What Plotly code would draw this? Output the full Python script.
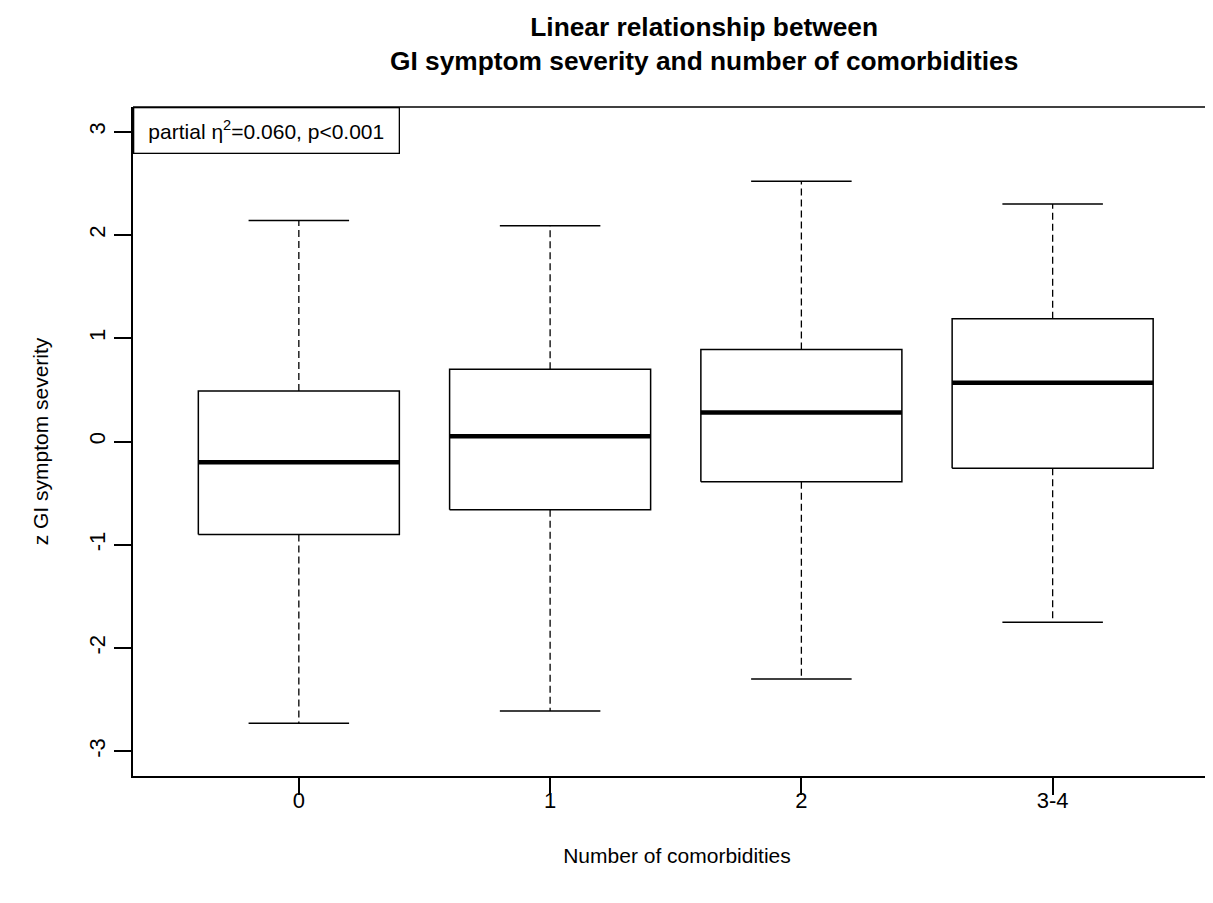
import plotly.graph_objects as go

# ---- data ----
groups = ["0", "1", "2", "3-4"]
whisker_low = [-2.73, -2.61, -2.30, -1.75]
q1 = [-0.90, -0.66, -0.39, -0.26]
median = [-0.20, 0.05, 0.28, 0.57]
q3 = [0.49, 0.70, 0.89, 1.19]
whisker_high = [2.14, 2.09, 2.52, 2.30]

y_ticks = [-3, -2, -1, 0, 1, 2, 3]

BOX_HALF = 0.4
CAP_HALF = 0.2
FONT = "Liberation Sans, Arial, sans-serif"

box_x, box_y = [], []
wh_x, wh_y = [], []
cap_x, cap_y = [], []
med_x, med_y = [], []
for i in range(len(groups)):
    box_x += [i - BOX_HALF, i + BOX_HALF, i + BOX_HALF, i - BOX_HALF, i - BOX_HALF, None]
    box_y += [q1[i], q1[i], q3[i], q3[i], q1[i], None]
    wh_x += [i, i, None, i, i, None]
    wh_y += [q3[i], whisker_high[i], None, q1[i], whisker_low[i], None]
    cap_x += [i - CAP_HALF, i + CAP_HALF, None, i - CAP_HALF, i + CAP_HALF, None]
    cap_y += [whisker_high[i], whisker_high[i], None, whisker_low[i], whisker_low[i], None]
    med_x += [i - BOX_HALF, i + BOX_HALF, None]
    med_y += [median[i], median[i], None]

fig = go.Figure()
fig.add_trace(go.Scatter(x=wh_x, y=wh_y, mode="lines",
                         line=dict(color="black", width=1.3, dash="7px,4px"),
                         hoverinfo="skip", showlegend=False))
fig.add_trace(go.Scatter(x=cap_x, y=cap_y, mode="lines",
                         line=dict(color="black", width=1.5),
                         hoverinfo="skip", showlegend=False))
fig.add_trace(go.Scatter(x=box_x, y=box_y, mode="lines",
                         line=dict(color="black", width=1.5),
                         hoverinfo="skip", showlegend=False))
fig.add_trace(go.Scatter(x=med_x, y=med_y, mode="lines",
                         line=dict(color="black", width=4.5),
                         hoverinfo="skip", showlegend=False))

# page body has an 8px margin; compensate so the plot sits where it should
OFF = 8
W, H = 1213, 903 - OFF
L, T, B = 133 - OFF, 107 - OFF, 127

fig.update_layout(
    width=W, height=H,
    margin=dict(l=L, r=0, t=T, b=B),
    paper_bgcolor="white", plot_bgcolor="white",
    font=dict(family=FONT, color="black", size=21),
    showlegend=False,
    xaxis=dict(
        range=[-0.66, 3.67],
        tickmode="array", tickvals=list(range(len(groups))), ticktext=groups,
        showgrid=False, zeroline=False,
        showline=True, linecolor="black", linewidth=1.5,
        ticks="outside", ticklen=17, tickwidth=1.5, tickcolor="black",
        tickfont=dict(size=22), ticklabelstandoff=-13,
        title=dict(text="Number of comorbidities", font=dict(size=21), standoff=36),
    ),
    yaxis=dict(
        range=[-3.24, 3.24],
        tickmode="array", tickvals=y_ticks, ticktext=[str(v) for v in y_ticks],
        tickangle=-90,
        showgrid=False, zeroline=False,
        showline=True, linecolor="black", linewidth=1.5,
        ticks="outside", ticklen=17, tickwidth=1.5, tickcolor="black",
        tickfont=dict(size=22),
        title=dict(text="z GI symptom severity", font=dict(size=21), standoff=31),
    ),
    shapes=[dict(type="line", xref="paper", yref="paper", x0=0, x1=1, y0=1, y1=1,
                 line=dict(color="black", width=1.5))],
    annotations=[
        dict(
            xref="paper", yref="paper", x=(704 - 133) / 1088, y=1,
            xanchor="center", yanchor="bottom", yshift=29,
            text="<b>Linear relationship between<br>GI symptom severity and number of comorbidities</b>",
            showarrow=False, align="center",
            font=dict(family=FONT, size=26.3, color="black"),
        ),
        dict(
            xref="paper", yref="paper", x=0, y=1, xanchor="left", yanchor="top",
            text="partial η<sup>2</sup>=0.060, p<0.001",
            showarrow=False, font=dict(family=FONT, size=21, color="black"),
            bgcolor="white", bordercolor="black", borderwidth=1.3, borderpad=1,
            width=262, height=42, align="center", valign="middle",
        ),
    ],
)

fig.write_html("out.html")
